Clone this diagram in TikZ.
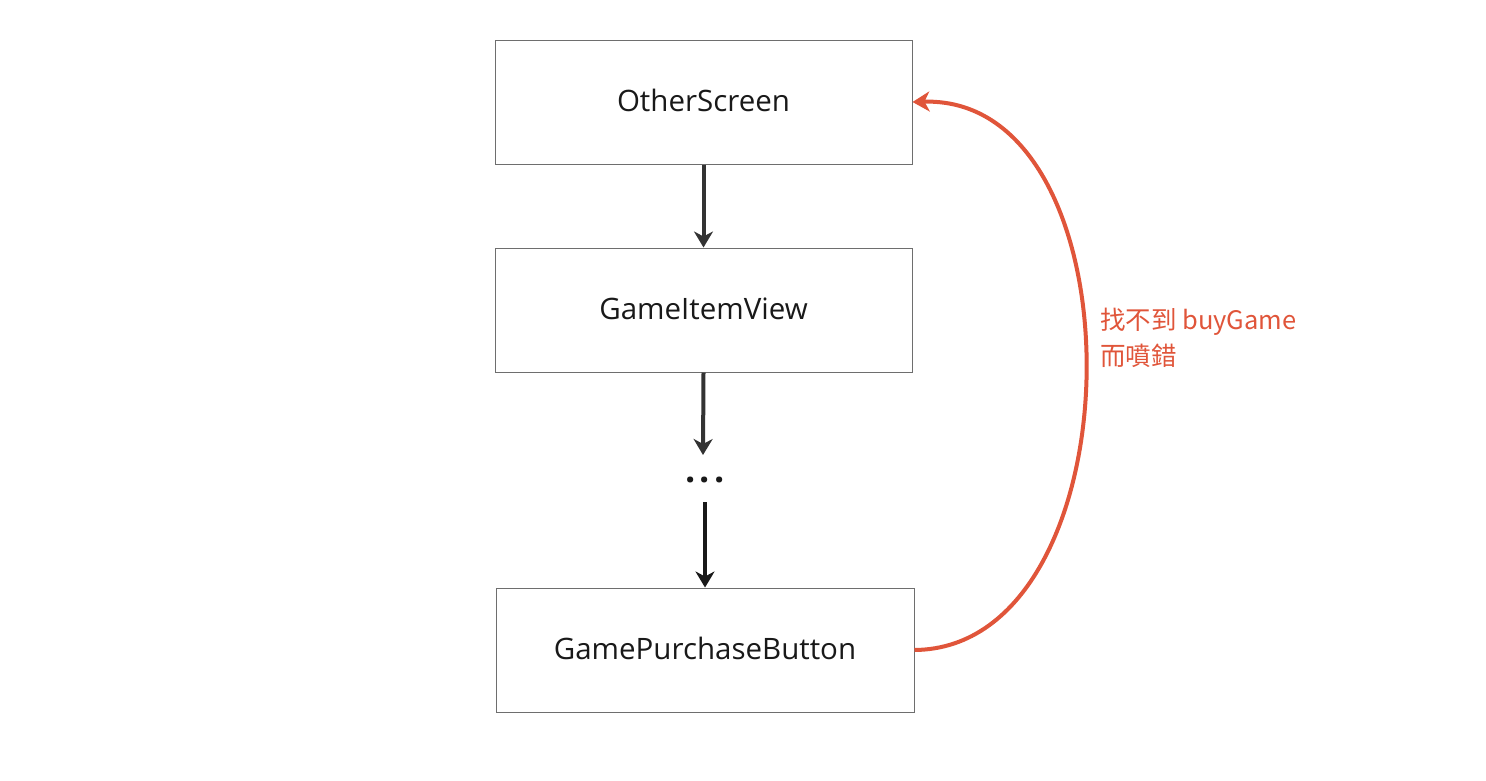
\documentclass[tikz,border=0pt]{standalone}
\usepackage{fontspec}
\setmainfont{Open Sans}
\newfontfamily\cjk{Noto Sans CJK TC}
\usetikzlibrary{arrows.meta}
\definecolor{boxline}{HTML}{6E6E6E}
\definecolor{darkarrow}{HTML}{333333}
\definecolor{redline}{HTML}{E0553A}
\tikzset{
  box/.style={draw=boxline, line width=1pt, minimum width=417pt, minimum height=124pt, inner sep=0pt, font=\fontsize{29.5}{32}\selectfont, text=black!90},
  flow/.style={draw=darkarrow, line width=4pt, -{Stealth[length=16pt,width=19pt,inset=5pt]}},
  back/.style={draw=redline, line width=4pt, -{Stealth[length=17pt,width=20pt,inset=5pt]}},
}
\begin{document}
\begin{tikzpicture}[x=1pt,y=-1pt]
\useasboundingbox (0,0) rectangle (1486,780);
\node[box] (os) at (703.5,102) {\raisebox{3.5pt}{OtherScreen}};
\node[box] (giv) at (703.5,310) {\raisebox{3.5pt}{GameItemView}};
\node[box, minimum width=418pt] (gpb) at (705,650) {\raisebox{3.5pt}{GamePurchaseButton}};
\node[font=\fontsize{36}{36}\selectfont\bfseries, text=black!90] (dots) at (705,480) {.\hspace{4pt}.\hspace{4pt}.};
\coordinate (a2end) at (703,455);
\coordinate (a3start) at (705,502);
\draw[flow] (os.south) -- (giv.north);
\draw[flow] (giv.south) -- (a2end);
\draw[flow, draw=black!90] (a3start) -- (gpb.north);
\draw[back] (gpb.east) .. controls (1140,648) and (1145,95) .. (os.east);
\node[anchor=north west, align=left, text=redline, font=\cjk\fontsize{25.5}{36}\selectfont, inner sep=0pt] (lbl) at (1100,307.5) {找不到 buyGame\\而噴錯};
\end{tikzpicture}
\end{document}
